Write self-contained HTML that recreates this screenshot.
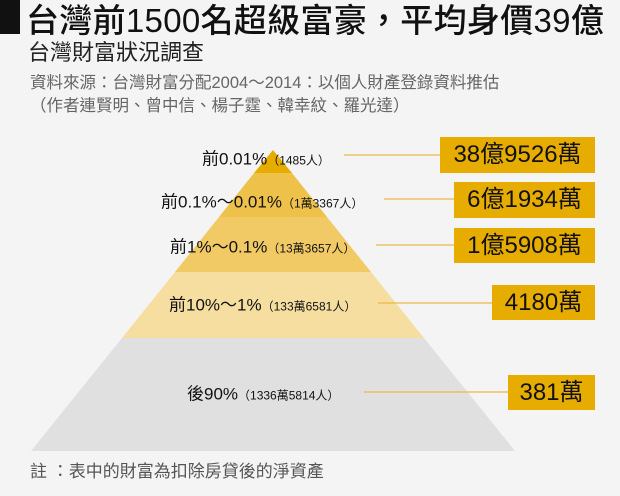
<!DOCTYPE html>
<html><head><meta charset="utf-8"><style>
body{margin:0;width:620px;height:496px;background:#f4f4f4;overflow:hidden;position:relative;font-family:"Liberation Sans","Noto Sans CJK TC",sans-serif;}
.a{position:absolute;white-space:nowrap;}
.box{position:absolute;background:#e6ad00;color:#111;font-size:24px;line-height:36px;text-align:center;}
.lab{position:absolute;white-space:nowrap;font-size:17px;color:#111;transform:translateY(-50%);}
.lab small{font-size:12px;}
</style></head><body>
<div class="a" style="left:0;top:0;width:20px;height:34px;background:#111"></div>
<div class="a" style="left:26px;top:-6px;font-size:33px;color:#111;font-weight:500;letter-spacing:0.3px">台灣前1500名超級富豪，平均身價39億</div>
<div class="a" style="left:28px;top:35px;font-size:22px;color:#222">台灣財富狀況調查</div>
<div class="a" style="left:30px;top:69px;font-size:16.5px;color:#666">資料來源：台灣財富分配2004～2014：以個人財產登錄資料推估</div>
<div class="a" style="left:30px;top:92px;font-size:16.5px;color:#666">（作者連賢明、曾中信、楊子霆、韓幸紋、羅光達）</div>
<svg class="a" style="left:0;top:0" width="620" height="496">
<polygon points="273,150 292,173 254,173" fill="#e6ad00"/>
<polygon points="254,173 292,173 327,217 219,217" fill="#eec24a"/>
<polygon points="219,217 327,217 371,272 175,272" fill="#f1ca66"/>
<polygon points="175,272 371,272 424,338 122,338" fill="#f5dea0"/>
<polygon points="122,338 424,338 515,451 31,451" fill="#e0e0e0"/>
<g stroke="#e9b94a" stroke-width="1.2">
<line x1="344" y1="155" x2="440" y2="155"/>
<line x1="384" y1="199" x2="454" y2="199"/>
<line x1="376" y1="245" x2="454" y2="245"/>
<line x1="378" y1="303" x2="492" y2="303"/>
<line x1="364" y1="392" x2="508" y2="392"/>
</g></svg>
<div class="lab" style="left:202px;top:157px">前0.01%<small>（1485人）</small></div>
<div class="lab" style="left:161px;top:200px">前0.1%～0.01%<small>（1萬3367人）</small></div>
<div class="lab" style="left:170px;top:245px">前1%～0.1%<small>（13萬3657人）</small></div>
<div class="lab" style="left:169px;top:303px">前10%～1%<small>（133萬6581人）</small></div>
<div class="lab" style="left:187px;top:392px">後90%<small>（1336萬5814人）</small></div>
<div class="box" style="left:440px;top:137px;width:155px;height:36px">38億9526萬</div>
<div class="box" style="left:454px;top:182px;width:141px;height:36px">6億1934萬</div>
<div class="box" style="left:454px;top:228px;width:141px;height:35px">1億5908萬</div>
<div class="box" style="left:492px;top:285px;width:103px;height:35px">4180萬</div>
<div class="box" style="left:508px;top:375px;width:87px;height:35px">381萬</div>
<div class="a" style="left:30px;top:457px;font-size:17px;color:#555">註 ：表中的財富為扣除房貸後的淨資產</div>
</body></html>
